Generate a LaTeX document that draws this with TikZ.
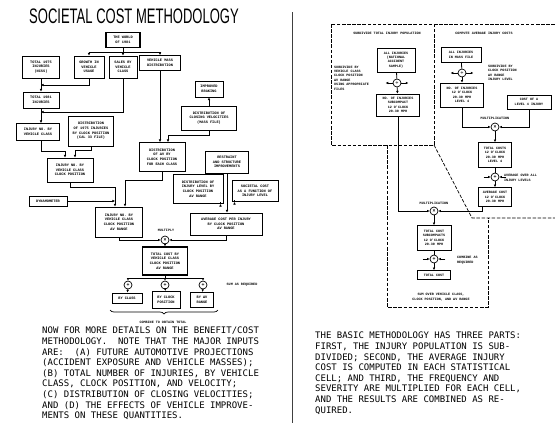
\documentclass[tikz,border=0pt]{standalone}
\usepackage{fontspec}
\setmainfont{Liberation Sans}
\setmonofont{Liberation Mono}
\newfontfamily\typefont{DejaVu Sans Mono}
\usepackage{graphicx}
\usetikzlibrary{arrows.meta, positioning, calc, decorations.pathreplacing}
\tikzset{%
	lbox/.style={
		draw,
		line width=1pt,
		align=center,
		inner sep=0.8pt,
		font=\fontsize{3.6}{4.6}\selectfont\ttfamily\bfseries
	},
	rbox/.style={
		draw,
		line width=0.8pt,
		align=center,
		inner sep=0.8pt,
		font=\fontsize{3.4}{4.4}\selectfont\ttfamily\bfseries
	},
	sz/.style 2 args={minimum width=#1, minimum height=#2},
	note/.style={
		align=left,
		inner sep=0pt,
		font=\fontsize{3.4}{4.4}\selectfont\ttfamily\bfseries
	},
	op/.style={
		circle,
		draw,
		fill=white,
		line width=0.7pt,
		minimum size=8pt,
		inner sep=0pt,
		font=\fontsize{5}{5}\selectfont\bfseries
	},
	flow/.style={
		line width=0.8pt,
		-{Latex[length=2.6pt,width=2.6pt]}
	},
	link/.style={line width=0.8pt},
	region/.style={line width=0.7pt, dash pattern=on 3.5pt off 1.6pt},
	para/.style={
		align=left,
		inner sep=0pt,
		anchor=north west,
		font=\fontsize{9}{10.6}\selectfont\typefont
	}
}

\begin{document}
\begin{tikzpicture}[x=1pt, y=-1pt]
	\fill[white] (0,0) rectangle (555,423);
	\useasboundingbox (0,0) rectangle (555,423);

	% Title and page divider
	\node (title) at (134,16) {\scalebox{0.62}[1]{\fontsize{21}{21}\selectfont SOCIETAL COST METHODOLOGY}};
	\draw[line width=0.8pt, black!75] (292,12) -- (292,423);

	% ---------- left diagram ----------
	\node[lbox, sz={34}{15}, line width=1.3pt] (world) at (123,40) {THE WORLD\\OF 1981};
	\node[lbox, sz={37}{22}] (tot75) at (41,67) {TOTAL 1975\\INJURIES\\(NCSS)};
	\node[lbox, sz={30}{22}] (growth) at (89,67) {GROWTH IN\\VEHICLE\\USAGE};
	\node[lbox, sz={28}{22}] (sales) at (123,67) {SALES BY\\VEHICLE\\CLASS};
	\node[lbox, sz={41}{15}] (mass) at (160,63) {VEHICLE MASS\\DISTRIBUTION};
	\node[lbox, sz={36}{16}] (tot81) at (41,100) {TOTAL 1981\\INJURIES};
	\node[lbox, sz={28}{16}] (braking) at (209,89) {IMPROVED\\BRAKING};
	\node[lbox, sz={55}{24}] (closing) at (209,118) {DISTRIBUTION OF\\CLOSING VELOCITIES\\(MASS FILE)};
	\node[lbox, sz={43}{17}] (injcls) at (38,132) {INJURY NO. BY\\VEHICLE CLASS};
	\node[lbox, sz={45}{30}] (dist75) at (91,131) {DISTRIBUTION\\OF 1975 INJURIES\\BY CLOCK POSITION\\(CAL 33 FILE)};
	\node[lbox, sz={46}{24}] (injclk) at (70,170) {INJURY NO. BY\\VEHICLE CLASS\\CLOCK POSITION};
	\node[lbox, sz={46}{29}] (distdv) at (162,157) {DISTRIBUTION\\OF ΔV BY\\CLOCK POSITION\\FOR EACH CLASS};
	\node[lbox, sz={43}{22}] (restr) at (227,162) {RESTRAINT\\AND STRUCTURE\\IMPROVEMENTS};
	\node[lbox, sz={50}{29}] (distlvl) at (198,189) {DISTRIBUTION OF\\INJURY LEVEL BY\\CLOCK POSITION\\ΔV RANGE};
	\node[lbox, sz={46}{21}] (soccost) at (255,191) {SOCIETAL COST\\AS A FUNCTION OF\\INJURY LEVEL};
	\node[lbox, sz={38}{10}] (dyna) at (48,201) {DYNAMOMETER};
	\node[lbox, sz={47}{30}] (injdv) at (119,222) {INJURY NO. BY\\VEHICLE CLASS\\CLOCK POSITION\\ΔV RANGE};
	\node[lbox, sz={72}{22}] (avgcost) at (226,224) {AVERAGE COST PER INJURY\\BY CLOCK POSITION\\ΔV RANGE};
	\node[op] (mult) at (165,240) {×};
	\node[note] at (166,230) {MULTIPLY};
	\node[lbox, sz={45}{28}, line width=1.4pt] (totcost) at (165,261) {TOTAL COST BY\\VEHICLE CLASS\\CLOCK POSITION\\ΔV RANGE};
	\node[op] (sumcls) at (128,285) {+};
	\node[op] (sumclk) at (165,285) {+};
	\node[op] (sumdv) at (203,285) {+};
	\node[note] at (242,285) {SUM AS REQUIRED};
	\node[lbox, sz={30}{10}] (bycls) at (127,298) {BY CLASS};
	\node[lbox, sz={28}{17}] (byclk) at (166,300) {BY CLOCK\\POSITION};
	\node[lbox, sz={23}{15}] (bydv) at (202,300) {BY ΔV\\RANGE};
	\draw[decorate, decoration={brace, mirror, amplitude=4pt}, line width=0.7pt] (110,310) -- (218,310);
	\node[note] at (163,322) {COMBINE TO OBTAIN TOTAL};

	% left connectors
	\coordinate (wj) at (123,52);
	\draw[link] (world) -- (wj);
	\draw[link] (growth.north |- wj) -- (mass.north |- wj);
	\foreach \n in {growth, sales, mass}
		\draw[flow] (\n.north |- wj) -- (\n.north);
	\draw[flow] (tot75) -- (tot81);
	\draw[flow] (growth.south) |- ($(tot75.south)!0.5!(tot81.north)$);
	\coordinate (sj) at (41,112);
	\draw[flow] (tot81.south -| sj) -- (injcls.north -| sj);
	\draw[flow] (sales.south) |- (sj);
	\draw[flow] (mass.south) -- (mass.south |- distdv.north);
	\draw[flow] (closing) -- (braking);
	\draw[flow] (closing.south) -- ++(0,5) -| ($(distdv.north)+(6,0)$);
	\draw[flow] (injcls.south -| sj) -- ++(0,10) -| ($(injclk.north)+(-5,0)$);
	\draw[flow] (dist75.south) -- ++(0,4) -| ($(injclk.north)+(5,0)$);
	\coordinate (vj) at ($(injdv.north)+(-4,0)$);
	\draw[flow] (injclk.south) -- ++(0,5) -| (vj);
	\draw[flow] (dyna.east) -- (dyna.east -| vj);
	\draw[flow] (distdv.south) -- ++(0,8) -| ($(injdv.north)+(6,0)$);
	\draw[flow] (restr.south) -- (restr.south |- avgcost.north);
	\draw[flow] ($(distlvl.south east)+(-3,0)$) -- ($(distlvl.south east)+(-3,0)$ |- avgcost.north);
	\draw[flow] ($(soccost.south west)+(3,0)$) -- ($(soccost.south west)+(3,0)$ |- avgcost.north);
	\draw[flow] (avgcost.south) |- (mult.east);
	\draw[flow] (injdv.south) |- (mult.west);
	\draw[flow] (mult) -- (totcost);
	\coordinate (tj) at (165,278);
	\draw[link] (totcost.south) -- (tj);
	\draw[link] (sumcls.north |- tj) -- (sumdv.north |- tj);
	\foreach \n in {sumcls, sumclk, sumdv}
		\draw[flow] (\n.north |- tj) -- (\n.north);
	\draw[flow] (sumcls) -- (bycls);
	\draw[flow] (sumclk) -- (byclk);
	\draw[flow] (sumdv) -- (bydv);

	% ---------- right diagram ----------
	% dashed regions
	\draw[region] (331,24) rectangle (434,145);
	\draw[region] (434,24) -- (555,24);
	\draw[region] (434,145) -- (472,218) -- (555,218);
	\draw[region] (387,145) -- (387,307) -- (488,307) -- (488,218);
	\node[note] at (387,33) {SUBDIVIDE TOTAL INJURY POPULATION};
	\node[note] at (484,33) {COMPUTE AVERAGE INJURY COSTS};

	% subdivide part
	\node[rbox, sz={38}{24}] (allinj) at (396,60) {ALL INJURIES\\(NATIONAL\\ACCIDENT\\SAMPLE)};
	\node[op] (divpop) at (397,83) {÷};
	\node[note, anchor=west] at (334,78) {SUBDIVIDE BY\\VEHICLE CLASS\\CLOCK POSITION\\ΔV RANGE\\USING APPROPRIATE\\FILES};
	\node[rbox, sz={43}{22}] (noinj) at (398,105) {NO. OF INJURIES\\SUBCOMPACT\\12 O'CLOCK\\20-30 MPH};
	\draw[link] (allinj) -- (divpop);
	\draw[flow] (divpop) -- (noinj);
	\draw[flow] (divpop.west) -- ++(-7,0);
	\draw[flow] (divpop.east) -- ++(7,0);

	% average cost part
	\node[rbox, sz={40}{15}] (massinj) at (461,55) {ALL INJURIES\\IN MASS FILE};
	\node[op] (divlvl) at (462,73) {÷};
	\node[note, anchor=west] at (488,73) {SUBDIVIDE BY\\CLOCK POSITION\\ΔV RANGE\\INJURY LEVEL};
	\node[rbox, sz={43}{24}] (nolvl) at (462,95) {NO. OF INJURIES\\12 O'CLOCK\\20-30 MPH\\LEVEL 4};
	\node[rbox, sz={44}{14}] (costlvl) at (529,102) {COST OF A\\LEVEL 4 INJURY};
	\node[note] at (495,118) {MULTIPLICATION};
	\node[op] (mullvl) at (495,127) {×};
	\node[rbox, sz={33}{25}] (totlvl) at (495,155) {TOTAL COSTS\\12 O'CLOCK\\20-30 MPH\\LEVEL 4};
	\node[op] (avgop) at (495,177) {+};
	\node[note, anchor=west] at (504,178) {AVERAGE OVER ALL\\INJURY LEVELS};
	\node[rbox, sz={33}{19}] (avgc) at (495,197) {AVERAGE COST\\12 O'CLOCK\\20-30 MPH};
	\draw[link] (massinj) -- (divlvl);
	\draw[flow] (divlvl) -- (nolvl);
	\draw[flow] (divlvl.west) -- ++(-7,0);
	\draw[flow] (divlvl.east) -- ++(7,0);
	\draw[flow] (nolvl.south) |- (mullvl.west);
	\draw[flow] (costlvl.south) |- (mullvl.east);
	\draw[flow] (mullvl) -- (totlvl);
	\draw[link] (totlvl) -- (avgop);
	\draw[flow] (avgop) -- (avgc);
	\draw[flow] ($(avgop.west)+(-7,0)$) -- (avgop.west);
	\draw[flow] ($(avgop.east)+(7,0)$) -- (avgop.east);

	% combine part
	\node[note] at (434,203) {MULTIPLICATION};
	\node[op] (mulsub) at (434,211) {×};
	\node[rbox, sz={34}{25}] (totsub) at (434,238) {TOTAL COST\\SUBCOMPACTS\\12 O'CLOCK\\20-30 MPH};
	\node[op] (comb) at (434,259) {+};
	\node[note, anchor=west] at (457,260) {COMBINE AS\\REQUIRED};
	\node[rbox, sz={33}{9}] (total) at (434,275) {TOTAL COST};
	\node[note, align=center] at (441,297) {SUM OVER VEHICLE CLASS,\\CLOCK POSITION, AND ΔV RANGE};
	\draw[flow] (noinj.south) |- (mulsub.west);
	\draw[flow] ($(avgc.south west)+(4,0)$) |- (mulsub.east);
	\draw[flow] (mulsub) -- (totsub);
	\draw[link] (totsub) -- (comb);
	\draw[flow] (comb) -- (total);
	\draw[flow] ($(comb.west)+(-7,0)$) -- (comb.west);
	\draw[flow] ($(comb.east)+(7,0)$) -- (comb.east);

	% ---------- text below the diagrams ----------
	\node[para] (leftpar) at (42,327) {NOW FOR MORE DETAILS ON THE BENEFIT/COST\\
METHODOLOGY.~ NOTE THAT THE MAJOR INPUTS\\
ARE:~ (A) FUTURE AUTOMOTIVE PROJECTIONS\\
(ACCIDENT EXPOSURE AND VEHICLE MASSES);\\
(B) TOTAL NUMBER OF INJURIES, BY VEHICLE\\
CLASS, CLOCK POSITION, AND VELOCITY;\\
(C) DISTRIBUTION OF CLOSING VELOCITIES;\\
AND (D) THE EFFECTS OF VEHICLE IMPROVE-\\
MENTS ON THESE QUANTITIES.};
	\node[para] (rightpar) at (315,332) {THE BASIC METHODOLOGY HAS THREE PARTS:\\
FIRST, THE INJURY POPULATION IS SUB-\\
DIVIDED; SECOND, THE AVERAGE INJURY\\
COST IS COMPUTED IN EACH STATISTICAL\\
CELL; AND THIRD, THE FREQUENCY AND\\
SEVERITY ARE MULTIPLIED FOR EACH CELL,\\
AND THE RESULTS ARE COMBINED AS RE-\\
QUIRED.};
\end{tikzpicture}
\end{document}
